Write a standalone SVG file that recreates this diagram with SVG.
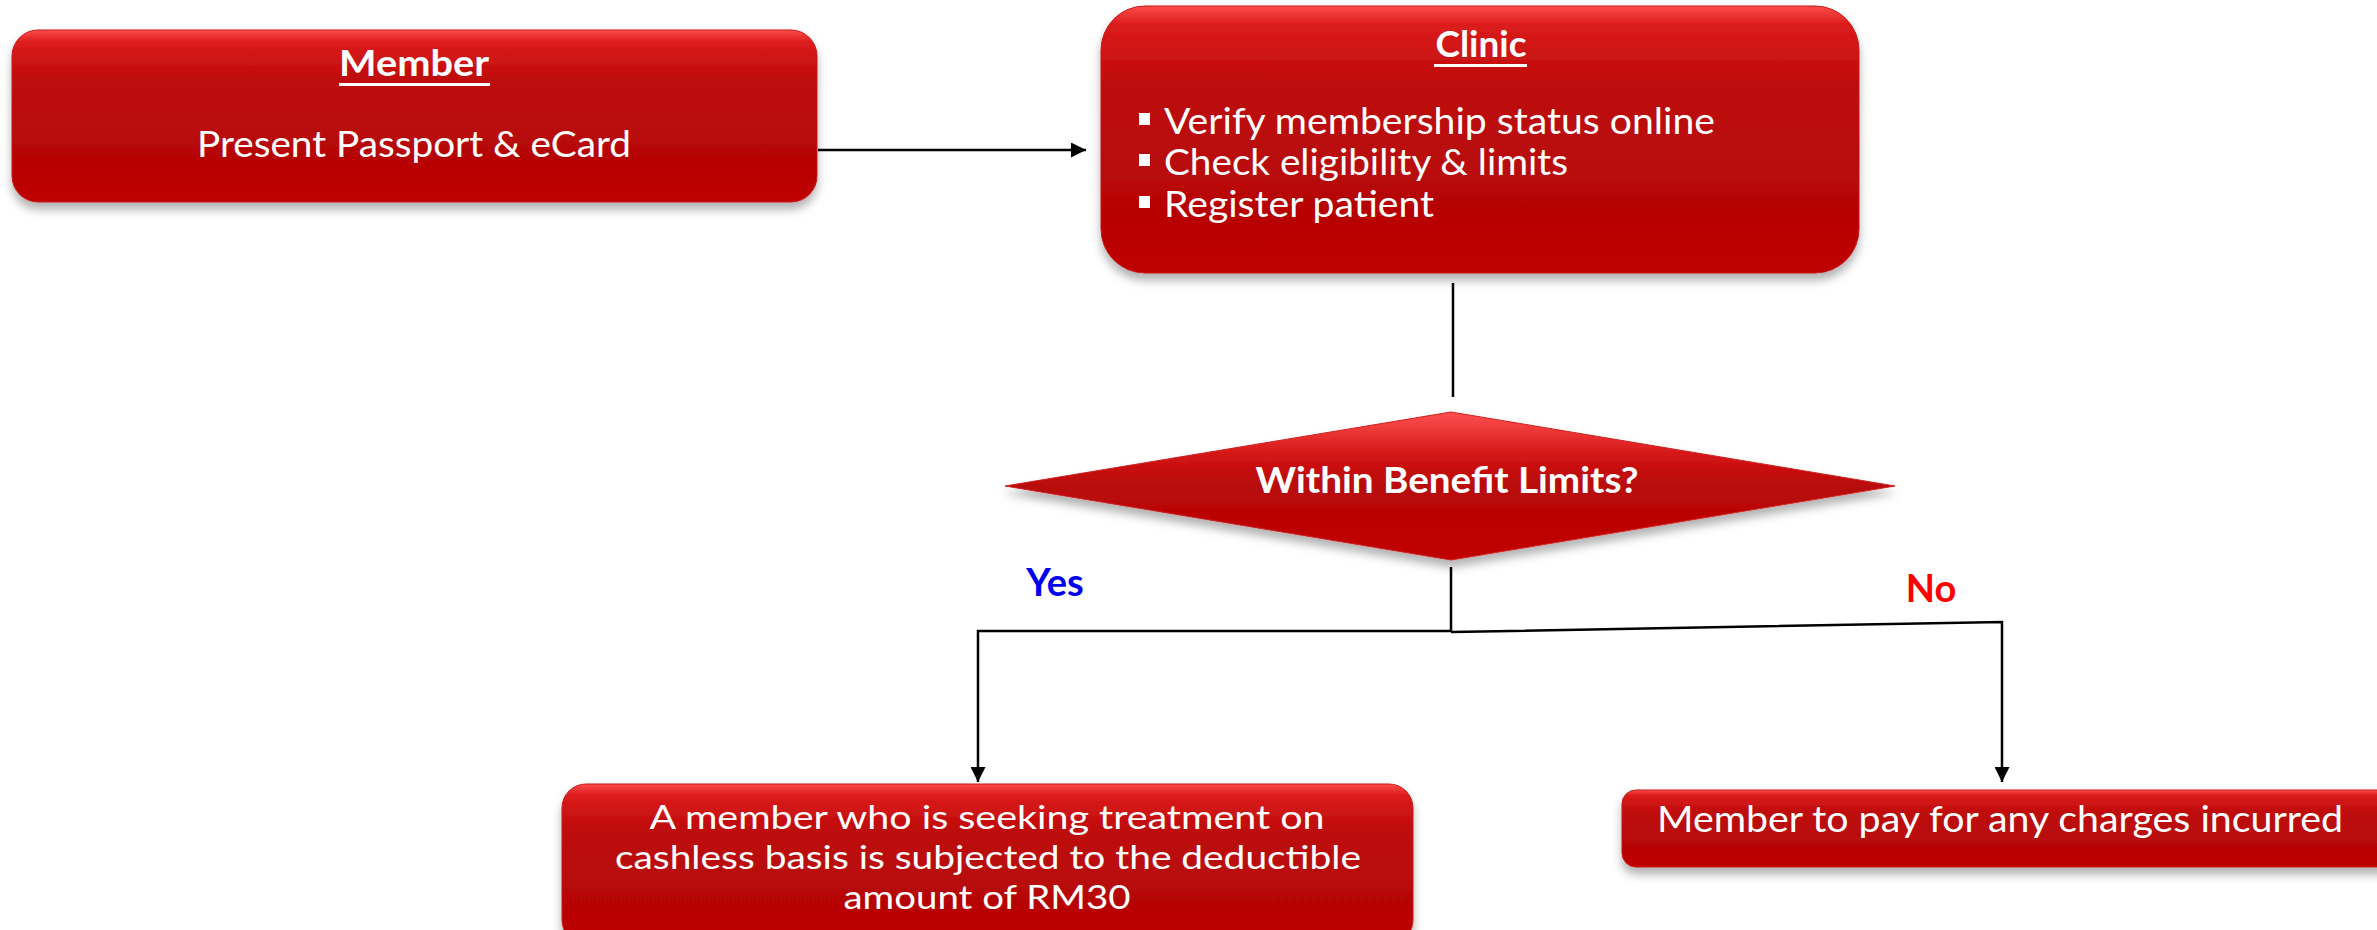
<svg xmlns="http://www.w3.org/2000/svg" width="2377" height="930" viewBox="0 0 2377 930">
<style>
  .box { stroke: #c41a1a; stroke-width: 1; filter: url(#sh); }
  .t { font-family: Lato, "Open Sans", "Liberation Sans", sans-serif; fill: #ffffff; font-size: 37px; }
  .s { font-size: 33px; }
  .b { font-weight: bold; }
  .c { text-anchor: middle; }
  .ln { stroke: #000; stroke-width: 2.5; fill: none; }
  .lbl { font-family: Lato, "Liberation Sans", sans-serif; font-weight: bold; font-size: 38px; }
</style>
<defs>
  <linearGradient id="rg" x1="0" y1="0" x2="0" y2="1">
    <stop offset="0" stop-color="#ff4c4c"/>
    <stop offset="0.07" stop-color="#dc1c1c"/>
    <stop offset="0.3" stop-color="#bd0a0a"/>
    <stop offset="0.75" stop-color="#b70606"/>
    <stop offset="1" stop-color="#bf0202"/>
  </linearGradient>
  <linearGradient id="dg" x1="0" y1="0" x2="0" y2="1">
    <stop offset="0" stop-color="#ff5050"/>
    <stop offset="0.3" stop-color="#d21414"/>
    <stop offset="0.5" stop-color="#b80808"/>
    <stop offset="1" stop-color="#c00202"/>
  </linearGradient>
  <filter id="sh" x="-5%" y="-10%" width="110%" height="130%">
    <feDropShadow dx="0" dy="7" stdDeviation="5" flood-color="#000" flood-opacity="0.3"/>
  </filter>
  <marker id="ah" viewBox="0 0 10 10" refX="10" refY="5" markerWidth="6" markerHeight="6" markerUnits="strokeWidth" orient="auto">
    <path d="M0,0 L10,5 L0,10 z" fill="#000"/>
  </marker>
</defs>
<rect width="2377" height="930" fill="#ffffff"/>

<g id="connectors">
  <line class="ln" x1="818" y1="150" x2="1086" y2="150" marker-end="url(#ah)"/>
  <line class="ln" x1="1453" y1="283" x2="1453" y2="397"/>
  <polyline class="ln" points="1451,567 1451,631 978,631 978,782" marker-end="url(#ah)"/>
  <polyline class="ln" points="1451,632 2002,622 2002,782" marker-end="url(#ah)"/>
  <text class="lbl" x="1055" y="596" text-anchor="middle" fill="#0000ee">Yes</text>
  <text class="lbl" x="1931" y="602" text-anchor="middle" fill="#ff0000">No</text>
</g>

<g id="member">
  <rect class="box" x="12" y="30" width="805" height="172" rx="26" fill="url(#rg)"/>
  <text class="t b c" x="414" y="76" textLength="150" lengthAdjust="spacingAndGlyphs">Member</text>
  <rect x="339" y="83" width="151" height="3" fill="#fff"/>
  <text class="t c" x="414" y="157" textLength="434" lengthAdjust="spacingAndGlyphs">Present Passport &amp; eCard</text>
</g>

<g id="clinic">
  <rect class="box" x="1101" y="6" width="758" height="267" rx="44" fill="url(#rg)"/>
  <text class="t b c" x="1481" y="57" textLength="91" lengthAdjust="spacingAndGlyphs">Clinic</text>
  <rect x="1434" y="64" width="93" height="3" fill="#fff"/>
  <rect x="1139" y="113" width="11" height="12" fill="#fff"/>
  <rect x="1139" y="154" width="11" height="12" fill="#fff"/>
  <rect x="1139" y="196" width="11" height="12" fill="#fff"/>
  <text class="t" x="1164" y="134" textLength="551" lengthAdjust="spacingAndGlyphs">Verify membership status online</text>
  <text class="t" x="1164" y="175" textLength="404" lengthAdjust="spacingAndGlyphs">Check eligibility &amp; limits</text>
  <text class="t" x="1164" y="217" textLength="270" lengthAdjust="spacingAndGlyphs">Register patient</text>
</g>

<g id="decision">
  <polygon points="1451,412 1895,486 1451,560 1005,486" fill="url(#dg)" stroke="#d02020" stroke-width="1" filter="url(#sh)"/>
  <text class="t b c" x="1447" y="493" textLength="383" lengthAdjust="spacingAndGlyphs">Within Benefit Limits?</text>
</g>

<g id="yes-box">
  <rect class="box" x="562" y="784" width="851" height="160" rx="24" fill="url(#rg)"/>
  <text class="t s c" x="987" y="829" textLength="675" lengthAdjust="spacingAndGlyphs">A member who is seeking treatment on</text>
  <text class="t s c" x="988" y="869" textLength="746" lengthAdjust="spacingAndGlyphs">cashless basis is subjected to the deductible</text>
  <text class="t s c" x="987" y="909" textLength="287" lengthAdjust="spacingAndGlyphs">amount of RM30</text>
</g>

<g id="no-box">
  <rect class="box" x="1622" y="790" width="780" height="77" rx="14" fill="url(#rg)"/>
  <text class="t c" x="2000" y="832" textLength="686" lengthAdjust="spacingAndGlyphs">Member to pay for any charges incurred</text>
</g>
</svg>
